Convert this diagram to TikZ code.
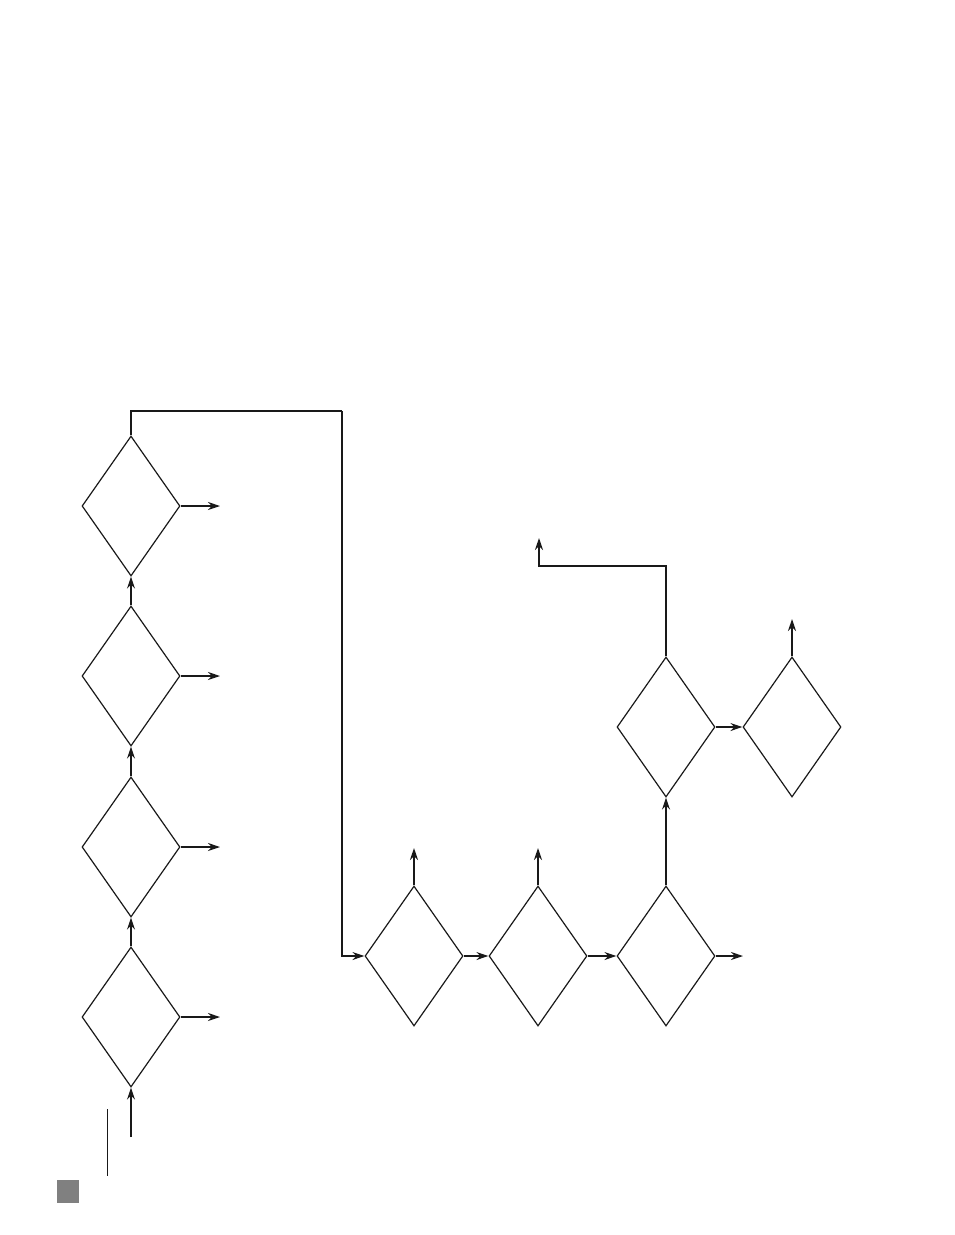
\documentclass[tikz,border=0pt]{standalone}
\usetikzlibrary{shapes.geometric,arrows.meta}
\begin{document}
\begin{tikzpicture}[x=1pt,y=-1pt,
  dia/.style={draw=black!90,line width=1.2pt,shape=diamond,inner sep=0pt,minimum width=98pt,minimum height=140pt},
  arr/.style={draw=black!90,line width=1.6pt,-{Stealth[length=12pt,width=8pt]}},
  ln/.style={draw=black!90,line width=1.2pt}]
\useasboundingbox (0,0) rectangle (954,1235);
% left column
\node[dia] (d1) at (131,506) {};
\node[dia] (d2) at (131,676) {};
\node[dia] (d3) at (131,847) {};
\node[dia] (d4) at (131,1017) {};
% bottom row
\node[dia] (d5) at (414,956) {};
\node[dia] (d6) at (538,956) {};
\node[dia] (d7) at (666,956) {};
% upper right
\node[dia] (d8) at (666,727) {};
\node[dia] (d9) at (792,727) {};
% free ends
\coordinate (s0) at (131,1137);
\coordinate (e1) at (220,506);
\coordinate (e2) at (220,676);
\coordinate (e3) at (220,847);
\coordinate (e4) at (220,1017);
\coordinate (t1) at (131,411);
\coordinate (t2) at (342,411);
\coordinate (t3) at (342,956);
\coordinate (u5) at (414,848);
\coordinate (u6) at (538,848);
\coordinate (e7) at (743,956);
\coordinate (u9) at (792,619);
\coordinate (k1) at (666,566);
\coordinate (k2) at (539,566);
\coordinate (k3) at (539,538);
% connectors
\draw[arr] (s0) -- (d4.south);
\draw[arr] (d4.north) -- (d3.south);
\draw[arr] (d3.north) -- (d2.south);
\draw[arr] (d2.north) -- (d1.south);
\draw[arr,line width=1.2pt] (d1.east) -- (e1);
\draw[arr] (d2.east) -- (e2);
\draw[arr,line width=1.2pt] (d3.east) -- (e3);
\draw[arr] (d4.east) -- (e4);
\draw[ln] (d1.north) -- (t1) -- (t2);
\draw[arr] (t2) -- (t3) -- (d5.west);
\draw[arr] (d5.east) -- (d6.west);
\draw[arr] (d6.east) -- (d7.west);
\draw[arr] (d5.north) -- (u5);
\draw[arr] (d6.north) -- (u6);
\draw[arr] (d7.east) -- (e7);
\draw[arr] (d7.north) -- (d8.south);
\draw[arr] (d8.east) -- (d9.west);
\draw[arr] (d9.north) -- (u9);
\draw[arr] (d8.north) -- (k1) -- (k2) -- (k3);
% thin line and gray square
\draw[ln,line width=1pt] (107,1109) -- (107,1176);
\fill[black!50] (57,1180) rectangle (79,1203);
\end{tikzpicture}
\end{document}
